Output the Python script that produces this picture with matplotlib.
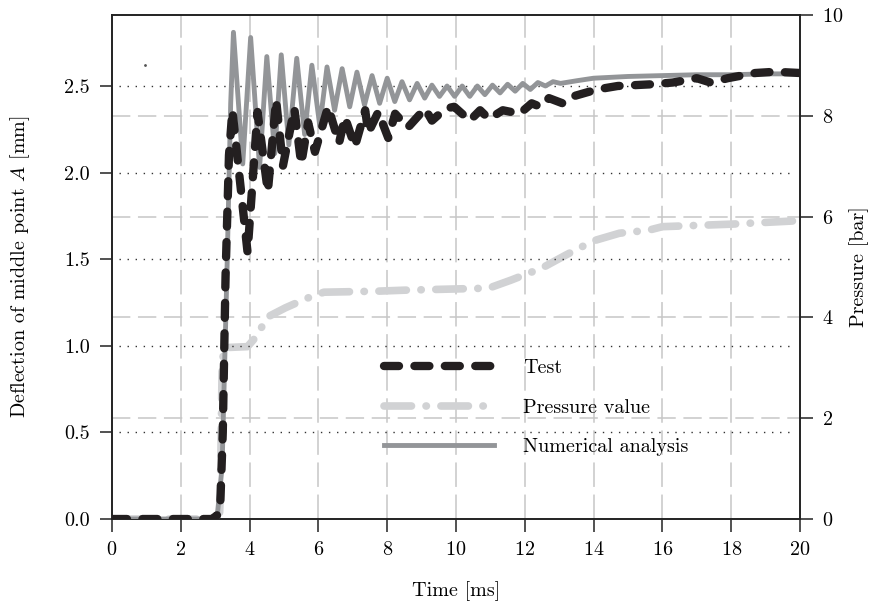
import numpy as np
import matplotlib
matplotlib.use("Agg")
import matplotlib.pyplot as plt

plt.rcParams['font.family'] = 'serif'
plt.rcParams['font.serif'] = ['cmr10']
plt.rcParams['mathtext.fontset'] = 'cm'
plt.rcParams['axes.formatter.use_mathtext'] = True

# Test (measured deflection) [ms], [mm]
test_t = [0, 2.9, 3.05, 3.15, 3.22, 3.3, 3.4, 3.5, 3.94, 4.23, 4.53, 4.77, 4.97, 5.3, 5.5,
          5.7, 5.9, 6.28, 6.6, 6.77, 7.06, 7.36, 7.45, 7.74, 8.03, 8.23, 8.6, 9.1, 9.3, 9.7,
          9.95, 10.4, 10.7, 10.96, 11.36, 11.85, 12.2, 12.45, 12.7, 13.1, 13.4, 14.1, 14.7,
          15.7, 16.3, 17.0, 17.4, 17.9, 18.7, 19.1, 19.5, 20]
test_d = [0, 0, 0.02, 0.1, 0.5, 1.4, 2.1, 2.36, 1.54, 2.35, 1.89, 2.42, 2.04, 2.37, 2.05,
          2.29, 2.12, 2.38, 2.17, 2.32, 2.15, 2.36, 2.23, 2.35, 2.2, 2.34, 2.26, 2.37, 2.3, 2.37,
          2.38, 2.30, 2.36, 2.31, 2.36, 2.34, 2.40, 2.38, 2.43, 2.40, 2.44, 2.48, 2.50,
          2.51, 2.52, 2.545, 2.52, 2.545, 2.575, 2.58, 2.58, 2.575]

# Numerical analysis [ms], [mm]
num_t = [0, 3.05, 3.2, 3.35, 3.45, 3.53, 3.8, 4.03, 4.29, 4.5, 4.73, 4.92, 5.14, 5.37, 5.6,
         5.81, 6.04, 6.25, 6.47, 6.69, 6.91, 7.12, 7.34, 7.56, 7.78, 8.0, 8.22, 8.43, 8.65,
         8.87, 9.09, 9.3, 9.52, 9.74, 9.96, 10.18, 10.4, 10.62, 10.84, 11.06, 11.28, 11.5,
         11.72, 11.94, 12.16, 12.38, 12.6, 12.82, 13.04, 13.5, 14, 15, 16, 17, 18, 19, 20]
num_d = [0, 0, 0.3, 1.5, 2.4, 2.81, 2.05, 2.78, 2.03, 2.67, 2.11, 2.68, 2.16, 2.66, 2.22,
         2.62, 2.27, 2.61, 2.36, 2.60, 2.38, 2.58, 2.39, 2.56, 2.40, 2.545, 2.41, 2.525, 2.42,
         2.515, 2.43, 2.505, 2.44, 2.50, 2.44, 2.50, 2.44, 2.50, 2.45, 2.505, 2.46, 2.51,
         2.47, 2.515, 2.48, 2.52, 2.50, 2.525, 2.515, 2.53, 2.545, 2.555, 2.56, 2.565, 2.565, 2.57, 2.57]

# Pressure value [ms], [bar]
pres_t = [0, 3.12, 3.15, 3.2, 3.25, 3.94, 4.23, 4.5, 5.04, 5.67, 6.16, 7.7, 8.5, 10.95,
          11.6, 12.5, 13.2, 14.0, 14.75, 15.6, 16.0, 18.0, 20]
pres_p = [0, 0, 0.5, 3.0, 3.4, 3.42, 3.65, 4.0, 4.19, 4.38, 4.5, 4.52, 4.54, 4.58,
          4.74, 4.98, 5.24, 5.52, 5.67, 5.73, 5.8, 5.85, 5.92]

x_ticks = np.arange(0, 21, 2)
left_ticks = [0.0, 0.5, 1.0, 1.5, 2.0, 2.5]
right_ticks = [0, 2, 4, 6, 8, 10]

black = '#231f20'
mid_gray = '#939598'
light_gray = '#d1d2d4'
grid_gray = '#c6c6c6'

fig = plt.figure(figsize=(8.69, 6.04), dpi=100)
ax = fig.add_axes([0.1289, 0.1407, 0.7917, 0.8345])
ax2 = ax.twinx()
ax.set_zorder(2)
ax.patch.set_visible(False)
ax2.set_zorder(1)

ax.set_xlim(0, 20)
ax.set_ylim(0, 2.91)
ax2.set_ylim(0, 10)

# grids
for x in x_ticks[1:-1]:
    ax2.axvline(x, color=grid_gray, lw=1.1, dashes=(16, 5), zorder=0)
for p in right_ticks[1:-1]:
    ax2.axhline(p, color=grid_gray, lw=1.1, dashes=(12, 5), zorder=0)
for d in left_ticks[1:]:
    ax.axhline(d, color='#333333', lw=1.0, dashes=(1, 4.8), xmin=0.01, xmax=0.99, zorder=1)

lp, = ax2.plot(pres_t, pres_p, color=light_gray, lw=5.5, dashes=(3.6, 1.9, 0.05, 1.9),
               dash_capstyle='round', solid_capstyle='round', label='Pressure value')
ln, = ax.plot(num_t, num_d, color=mid_gray, lw=3.5, solid_joinstyle='round',
              label='Numerical analysis', zorder=3)
lt, = ax.plot(test_t, test_d, color=black, lw=6, dashes=(1.8, 1.85),
              dash_capstyle='round', dash_joinstyle='round', label='Test', zorder=4)
ax.plot([0.95], [2.62], marker='.', ms=2, color='#555555', zorder=4)

ax.set_xticks(x_ticks)
ax.set_yticks(left_ticks)
ax.set_yticklabels(['%.1f' % v for v in left_ticks])
ax2.set_yticks(right_ticks)
for a in (ax, ax2):
    a.tick_params(direction='out', length=9, width=1.2, color='#333333', labelsize=14.5, pad=7)
    for s in a.spines.values():
        s.set_linewidth(1.2)
        s.set_color('#222222')

ax.set_xlabel('Time [ms]', fontsize=14.5, labelpad=16)
ax.set_ylabel('Deflection of middle point $A$ [mm]', fontsize=14.5)
ax2.set_ylabel('Pressure [bar]', fontsize=14.5)
ax.yaxis.set_label_coords(-0.116, 0.5)
ax2.yaxis.set_label_coords(1.072, 0.5)

leg = ax.legend([lt, lp, ln], ['Test', 'Pressure value', 'Numerical analysis'],
                loc='upper left', bbox_to_anchor=(0.442, 0.405), bbox_transform=fig.transFigure,
                frameon=False, fontsize=14.5, handlelength=5.45, handletextpad=1.45,
                labelspacing=1.05, borderpad=0, borderaxespad=0)

fig.savefig('out.png', dpi=100, facecolor='white')
